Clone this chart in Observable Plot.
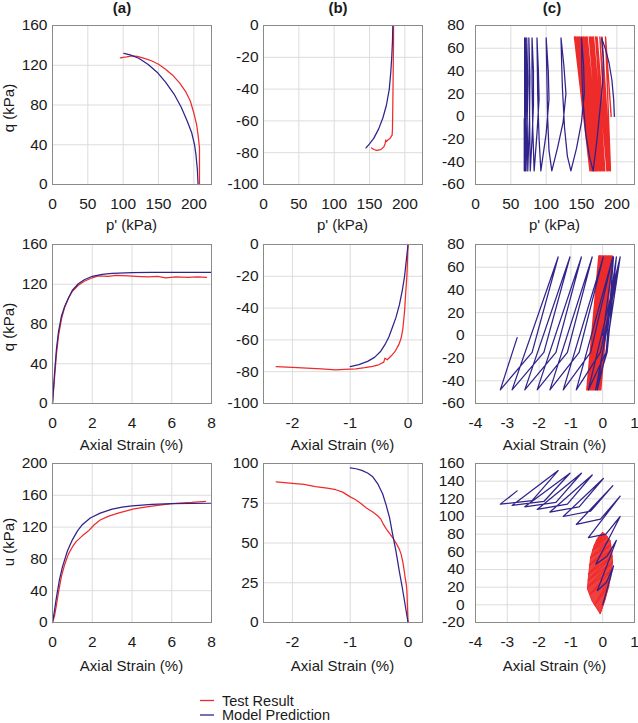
<!DOCTYPE html>
<html>
<head>
<meta charset="utf-8">
<script src="https://cdn.jsdelivr.net/npm/d3@7"></script>
<script src="https://cdn.jsdelivr.net/npm/@observablehq/plot@0.6"></script>
<style>
  html, body { margin: 0; padding: 0; background: #fff; }
  #chart { position: relative; width: 638px; height: 723px; background: #fff; overflow: hidden; }
</style>
</head>
<body>
<div id="chart"></div>
<script>
// ---------------- DATA ----------------
// Column (a): monotonic compression
const a1Test  = [[208,0],[208,20],[208,37],[206,50],[204,60],[200,72],[195,84],[188,94],[180,102],[170,110],[160,116],[150,121],[140,124.5],[130,127],[120,129],[112,129.5],[105,128.5],[100,128],[96,127.5]];
const a1Model = [[206,0],[205,15],[203,30],[201,40],[197,52],[190,65],[182,78],[172,91],[160,103],[148,113],[135,121],[122,127],[110,130.5],[101,132]];
const a2Test  = [[0,0],[0.1,25],[0.2,50],[0.3,68],[0.45,85],[0.6,96],[0.8,106],[1.0,113],[1.3,119],[1.6,123],[2.0,126.5],[2.3,128.5],[2.8,128],[3.2,129],[3.8,128.5],[4.2,128],[4.8,127.5],[5.3,128],[5.7,126.5],[6.2,127.5],[6.8,127],[7.3,127.5],[7.75,127]];
const a2Model = [[0,0],[0.1,30],[0.2,55],[0.3,72],[0.45,88],[0.6,97],[0.8,106],[1.0,114],[1.3,120.5],[1.6,124.5],[2.0,128],[2.5,130],[3,131],[4,131.6],[5,132],[8,132]];
const a3Test  = [[0,0],[0.1,8],[0.2,22],[0.3,38],[0.45,58],[0.6,72],[0.8,86],[1.0,95],[1.2,102],[1.5,109],[1.8,115],[2.1,123],[2.4,129],[2.8,133.5],[3.3,137.5],[4.1,143],[5,146.5],[6,149.5],[7,151],[7.7,152.5]];
const a3Model = [[0,0],[0.1,15],[0.2,32],[0.35,54],[0.5,70],[0.75,90],[1.0,104],[1.25,115],[1.5,123],[1.9,131.5],[2.4,137.5],[3,142.5],[3.5,145],[4,146.8],[5,148.5],[6,149.5],[8,150]];

// Column (b): monotonic extension
const b1Test  = [[184,0],[184,-10],[183.5,-30],[183,-50],[182.5,-65],[182,-69],[179,-71],[176,-72],[174,-73],[173,-72],[172,-74.5],[170,-76.5],[166,-78],[160,-78.5],[156,-78],[153,-77]];
const b1Model = [[183,0],[182.5,-10],[181.5,-20],[180,-30],[178,-40],[174,-50],[169,-58],[163,-65],[156,-71],[150,-74.5],[145,-77]];
const b2Test  = [[0,0],[-0.01,-10],[-0.02,-20],[-0.04,-30],[-0.06,-42],[-0.09,-53],[-0.12,-59],[-0.16,-63],[-0.22,-67],[-0.29,-70],[-0.36,-72.5],[-0.4,-71.5],[-0.42,-74],[-0.5,-75.5],[-0.61,-76.6],[-0.75,-77.5],[-0.9,-78.2],[-1.1,-78.6],[-1.25,-78.8],[-1.5,-78.2],[-1.75,-77.8],[-2.0,-77.3],[-2.28,-76.8]];
const b2Model = [[0,0],[-0.03,-10],[-0.06,-20],[-0.1,-29],[-0.15,-38],[-0.21,-46],[-0.27,-52],[-0.33,-58],[-0.4,-63],[-0.48,-67.5],[-0.58,-71],[-0.7,-73.5],[-0.85,-75.5],[-1.0,-76.8]];
const b3Test  = [[0,0],[-0.01,10],[-0.02,20],[-0.03,24],[-0.05,28],[-0.06,31],[-0.09,38],[-0.12,43],[-0.15,46],[-0.2,49.5],[-0.26,53],[-0.32,56],[-0.38,59],[-0.43,62],[-0.47,65],[-0.52,67],[-0.61,69.5],[-0.72,72],[-0.82,75],[-0.92,77.5],[-1.0,79],[-1.13,82],[-1.25,83.5],[-1.4,84.5],[-1.6,85.5],[-1.8,86.8],[-2.0,87.5],[-2.28,88.5]];
const b3Model = [[0,0],[-0.05,11],[-0.1,22],[-0.15,32],[-0.21,45],[-0.27,56],[-0.32,66],[-0.38,74],[-0.44,81],[-0.52,87],[-0.61,91.6],[-0.7,94],[-0.8,95.7],[-0.9,96.7],[-1.0,97.3]];

// Column (c): cyclic loading
const c1Model = [[196.5,0],[195.5,15],[193,32],[189,47],[184,59],[178.5,69],
  [181,50],[180,30],[176,5],[172,-20],[166.5,-48],
  [161,-35],[156,-15],[152,15],[150.5,40],[150,69],
  [153,45],[154,20],[150,-5],[143,-28],[135,-48],
  [130,-35],[126,-10],[123,25],[122,45],[121,69],
  [125,45],[128,20],[124,-5],[116,-28],[108,-48],
  [104,-30],[102,0],[101,35],[100,69],
  [103,40],[104,15],[100,-15],[92.5,-48],
  [90,-20],[88,20],[87,69],
  [89,40],[90,15],[87,-15],[83,-48],
  [81,-10],[80,30],[80,69],
  [82,40],[82,10],[80,-20],[77.5,-48],
  [76.5,0],[75.5,69],
  [77,35],[76.5,0],[74,-48],
  [73,0],[72.5,69],
  [74,30],[73,-10],[71.5,-48],
  [71,10],[70.5,69],
  [71.5,30],[71,-10],[70,-48],
  [69.5,10],[69.5,69],
  [70,30],[70,-10],[69,-48],
  [69,-2]];
const c1TestTopP = [184,179,176,172,170,167,165,163,161,158,157,155,153,152,150,148,147,145,144,142,141,140];
const c1TestBotP = [191,189,187,186,183,182,180,178,177,176,175,173,172,171,170,169,168,167,166,165,164,162];
const cycleTopQ = 70, cycleBotQ = -48;

const c2Model = [[0,0],[0.34,69],[0.11,-15],[-0.17,-48],[0.43,69],[0.14,-15],[-0.22,-48],[0.55,69],[0.10,-15],[-0.45,-48],
  [0.55,69],[-0.07,-15],[-0.83,-48],[0.32,69],[-0.38,-15],[-1.24,-48],[0.02,69],[-0.74,-15],[-1.66,-48],
  [-0.33,69],[-1.11,-15],[-2.06,-48],[-0.67,69],[-1.47,-15],[-2.45,-48],[-1.03,69],[-1.85,-15],[-2.85,-48],
  [-1.40,69],[-2.22,-15],[-3.22,-48],[-2.69,-2]];
const c2TestTopE = [0.30,0.27,0.25,0.22,0.2,0.18,0.16,0.13,0.11,0.09,0.07,0.05,0.03,0.01,-0.01,-0.03,-0.05,-0.07,-0.08,-0.1,-0.11,-0.12];
const c2TestBotE = [-0.06,-0.08,-0.11,-0.13,-0.15,-0.18,-0.2,-0.22,-0.25,-0.27,-0.29,-0.31,-0.33,-0.35,-0.37,-0.39,-0.41,-0.43,-0.45,-0.47,-0.48,-0.5];

const c3Model = [[0,0],[0.34,44],[0.11,25],[-0.17,16],[0.43,73],[0.14,55],[-0.22,46],[0.55,100],[0.10,80],[-0.45,76],
  [0.55,123],[-0.07,97],[-0.83,91],[0.32,135],[-0.38,106],[-1.24,100],[0.02,143],[-0.74,111],[-1.66,105],
  [-0.33,147],[-1.11,114],[-2.06,108],[-0.67,149],[-1.47,116],[-2.45,111],[-1.03,149],[-1.85,117],[-2.85,112.5],
  [-1.40,152],[-2.22,118],[-3.22,114],[-2.69,129]];
const c3TestOutline = [[-0.01,82],[0.1,79],[0.23,73],[0.28,62],[0.31,48],[0.25,31],[0.09,8],[-0.08,-10],[-0.33,4],[-0.48,18],[-0.45,31],[-0.38,54],[-0.27,67],[-0.17,75],[-0.01,82]];
const c3TestTops = [[0.09,8],[0.2,22],[0.25,31],[0.29,40],[0.31,48],[0.3,55],[0.28,62],[0.25,68],[0.23,73],[0.15,77],[0.1,79],[0.03,81]];
const c3TestBots = [[-0.08,-10],[-0.25,0],[-0.4,12],[-0.48,20],[-0.46,28],[-0.45,35],[-0.42,45],[-0.38,54],[-0.32,62],[-0.27,67],[-0.2,72],[-0.14,76]];

// Axis ticks
const pTicks = [0,50,100,150,200];
const strainTicksA = [0,2,4,6,8];
const strainTicksB = [-2,-1,0];
const strainTicksC = [-4,-3,-2,-1,0,1];
const qTicksA = [0,40,80,120,160];
const qTicksB = [-100,-80,-60,-40,-20,0];
const qTicksC = [-60,-40,-20,0,20,40,60,80];
const uTicksA = [0,40,80,120,160,200];
const uTicksB = [0,25,50,75,100];
const uTicksC = [-20,0,20,40,60,80,100,120,140,160];

const columnTitles = ["(a)","(b)","(c)"];
const legendLabels = ["Test Result","Model Prediction"];

// ---------------- build cyclic test paths from the tables ----------------
function zigzag(start, tops, bots) {
  const out = [start];
  for (let i = 0; i < tops.length; i++) { out.push(tops[i]); out.push(bots[i]); }
  return out;
}
const c1Test = zigzag([192,0], c1TestTopP.map(p => [p, cycleTopQ]), c1TestBotP.map(p => [p, cycleBotQ]));
const c2Test = zigzag([0,0], c2TestTopE.map(e => [e, cycleTopQ]), c2TestBotE.map(e => [e, cycleBotQ]));
const c3Test = zigzag([0,0], c3TestTops, c3TestBots);

// ---------------- styling ----------------
const RED = "#ee2b2b", NAVY = "#30238a", GRID = "#dcdcdc", FRAME = "#8a8a8a";
const FONT = "Arial, 'Liberation Sans', Helvetica, sans-serif";
const root = document.getElementById("chart");
const PW = 159, PH = 159, mL = 60, mR = 12, mT = 10, mB = 34;

function panel(o) {
  const inside = (t, d) => t.filter(v => v > d[0] && v < d[1]);
  const line = (data, color, extra = {}) => Plot.line(data, {x: d => d[0], y: d => d[1], stroke: color, strokeWidth: 1.25, strokeLinejoin: "round", ...extra});
  const marks = [
    Plot.ruleX(inside(o.xt, o.x), {stroke: GRID, strokeWidth: 1}),
    Plot.ruleY(inside(o.yt, o.y), {stroke: GRID, strokeWidth: 1}),
    ...(o.extra || []).map(f => f(line)),
    line(o.test, RED, o.testOpts || {}),
    line(o.model, NAVY),
    Plot.frame({stroke: FRAME, strokeWidth: 1})
  ];
  const svg = Plot.plot({
    width: PW + mL + mR, height: PH + mT + mB,
    marginLeft: mL, marginRight: mR, marginTop: mT, marginBottom: mB,
    x: {domain: o.x, ticks: o.xt, tickSize: 0, tickPadding: 13.5, label: null, tickFormat: d => String(d)},
    y: {domain: o.y, ticks: o.yt, tickSize: 0, tickPadding: o.pad, label: null, tickFormat: d => String(d)},
    style: {background: "transparent", overflow: "visible", fontFamily: FONT, fontSize: "15.5px", color: "#1a1a1a"},
    marks
  });
  svg.style.position = "absolute";
  svg.style.left = (o.L - mL) + "px";
  svg.style.top = (o.T - mT) + "px";
  root.appendChild(svg);
}

const cols = [52, 263, 475];
const rows = [25, 244, 463];
const pDom = [0,225], sA = [0,8], sB = [-2.5,0.25], sC = [-4,1];

panel({L: cols[0], T: rows[0], x: pDom, xt: pTicks, y: [0,160], yt: qTicksA, test: a1Test, model: a1Model, pad: 5});
panel({L: cols[1], T: rows[0], x: pDom, xt: pTicks, y: [-100,0], yt: qTicksB, test: b1Test, model: b1Model, pad: 5});
panel({L: cols[2], T: rows[0], x: pDom, xt: pTicks, y: [-60,80], yt: qTicksC, test: c1Test, model: c1Model, pad: 11, testOpts: {strokeWidth: 1.4}});
panel({L: cols[0], T: rows[1], x: sA, xt: strainTicksA, y: [0,160], yt: qTicksA, test: a2Test, model: a2Model, pad: 5});
panel({L: cols[1], T: rows[1], x: sB, xt: strainTicksB, y: [-100,0], yt: qTicksB, test: b2Test, model: b2Model, pad: 5});
panel({L: cols[2], T: rows[1], x: sC, xt: strainTicksC, y: [-60,80], yt: qTicksC, test: c2Test, model: c2Model, pad: 11, testOpts: {strokeWidth: 1.4}});
panel({L: cols[0], T: rows[2], x: sA, xt: strainTicksA, y: [0,200], yt: uTicksA, test: a3Test, model: a3Model, pad: 5});
panel({L: cols[1], T: rows[2], x: sB, xt: strainTicksB, y: [0,100], yt: uTicksB, test: b3Test, model: b3Model, pad: 5});
panel({L: cols[2], T: rows[2], x: sC, xt: strainTicksC, y: [-20,160], yt: uTicksC, test: c3Test, model: c3Model, pad: 11, testOpts: {strokeWidth: 1.2},
  extra: [line => line(c3TestOutline, RED, {fill: RED, fillOpacity: 0.9, strokeWidth: 1})]});

// ---------------- titles, axis titles, legend ----------------
const ns = "http://www.w3.org/2000/svg";
const ov = document.createElementNS(ns, "svg");
ov.setAttribute("width", 638); ov.setAttribute("height", 723);
ov.style.position = "absolute"; ov.style.left = "0px"; ov.style.top = "0px";
ov.style.fontFamily = FONT; ov.style.pointerEvents = "none";
root.appendChild(ov);
function txt(s, x, y, opts = {}) {
  const t = document.createElementNS(ns, "text");
  t.textContent = s;
  t.setAttribute("x", x); t.setAttribute("y", y);
  t.setAttribute("text-anchor", opts.anchor || "middle");
  t.setAttribute("font-size", opts.size || 15);
  t.setAttribute("fill", "#1a1a1a");
  if (opts.bold) t.setAttribute("font-weight", "bold");
  if (opts.rotate) t.setAttribute("transform", `rotate(-90 ${x} ${y})`);
  ov.appendChild(t);
}
const centers = cols.map(c => c + PW / 2);
columnTitles.forEach((s, i) => txt(s, [122, 338, 552][i], 12.5, {bold: true, size: 15}));
centers.forEach(cx => txt("p' (kPa)", cx, 230, {size: 15}));
centers.forEach(cx => txt("Axial Strain (%)", cx, 449.5, {size: 15}));
centers.forEach(cx => txt("Axial Strain (%)", cx, 670.5, {size: 15}));
txt("q (kPa)", 14, 108, {rotate: true, size: 15});
txt("q (kPa)", 14, 327, {rotate: true, size: 15});
txt("u (kPa)", 14, 542, {rotate: true, size: 15});

// legend
[[RED, 700.5], [NAVY, 715]].forEach(([c, y], i) => {
  const l = document.createElementNS(ns, "line");
  l.setAttribute("x1", 200); l.setAttribute("x2", 214);
  l.setAttribute("y1", y); l.setAttribute("y2", y);
  l.setAttribute("stroke", c); l.setAttribute("stroke-width", 1.3);
  ov.appendChild(l);
  txt(legendLabels[i], 222, y + 5, {anchor: "start", size: 14.5});
});
</script>
</body>
</html>
